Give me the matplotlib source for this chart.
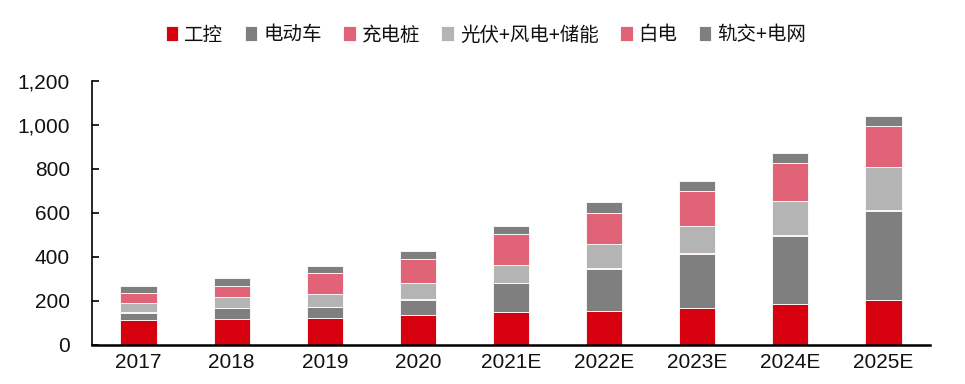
import matplotlib
matplotlib.use("Agg")
import matplotlib.pyplot as plt
import numpy as np
from matplotlib.ticker import FuncFormatter

categories = ["2017", "2018", "2019", "2020", "2021E", "2022E", "2023E", "2024E", "2025E"]
series_names = ["工控", "电动车", "充电桩", "光伏+风电+储能", "白电", "轨交+电网"]
gongkong = [114, 120, 123, 135, 149, 153, 170, 186, 206]
ev = [33, 48, 51, 71, 131, 194, 242, 308, 401]
charging = [1, 1, 1, 2, 3, 4, 5, 6, 8]
pv = [44, 50, 58, 74, 80, 107, 125, 156, 193]
appliance = [46, 51, 94, 109, 141, 142, 158, 171, 187]
rail = [32, 34, 32, 36, 35, 49, 45, 46, 47]
colors = ["#D7000F", "#7F7F7F", "#E06377", "#B4B4B4", "#E06377", "#7F7F7F"]

plt.rcParams['font.family'] = ['Liberation Sans', 'Noto Sans CJK SC', 'DejaVu Sans']

fig = plt.figure(figsize=(9.65, 3.84), dpi=100)
ax = fig.add_axes([92/965, 1-345/384, (930-92)/965, (345-81)/384])

x = np.arange(len(categories))
bottom = np.zeros(len(categories))
handles = []
for name, vals, c in zip(series_names, [gongkong, ev, charging, pv, appliance, rail], colors):
    b = ax.bar(x, vals, width=0.39, bottom=bottom, color=c, edgecolor="white", linewidth=0.6, label=name)
    handles.append(b)
    bottom += np.array(vals)

ax.set_xlim(-0.5, len(categories) - 0.5)
ax.set_ylim(0, 1200)
ax.set_yticks(np.arange(0, 1201, 200))
ax.yaxis.set_major_formatter(FuncFormatter(lambda v, p: f"{int(v):,}"))
ax.set_xticks(x)
ax.set_xticklabels(categories)
ax.tick_params(axis='x', length=0, labelsize=15, pad=5.5, colors='#111111')
ax.tick_params(axis='y', direction='in', length=5, width=1.2, labelsize=15, pad=16, labelcolor='#111111')
for s in ["top", "right"]:
    ax.spines[s].set_visible(False)
ax.spines["left"].set_linewidth(1.2)
ax.spines["bottom"].set_linewidth(1.8)

leg = fig.legend(handles=handles, labels=series_names, loc="center", bbox_to_anchor=(486/965, 1-35/384),
                 ncol=6, frameon=False, handlelength=0.65, handleheight=0.8, handletextpad=0.3,
                 columnspacing=1.1, prop={'family': ['Noto Sans CJK SC', 'DejaVu Sans'], 'size': 14})
for t in leg.get_texts():
    t.set_color('#111111')

fig.savefig("out.png", dpi=100)
